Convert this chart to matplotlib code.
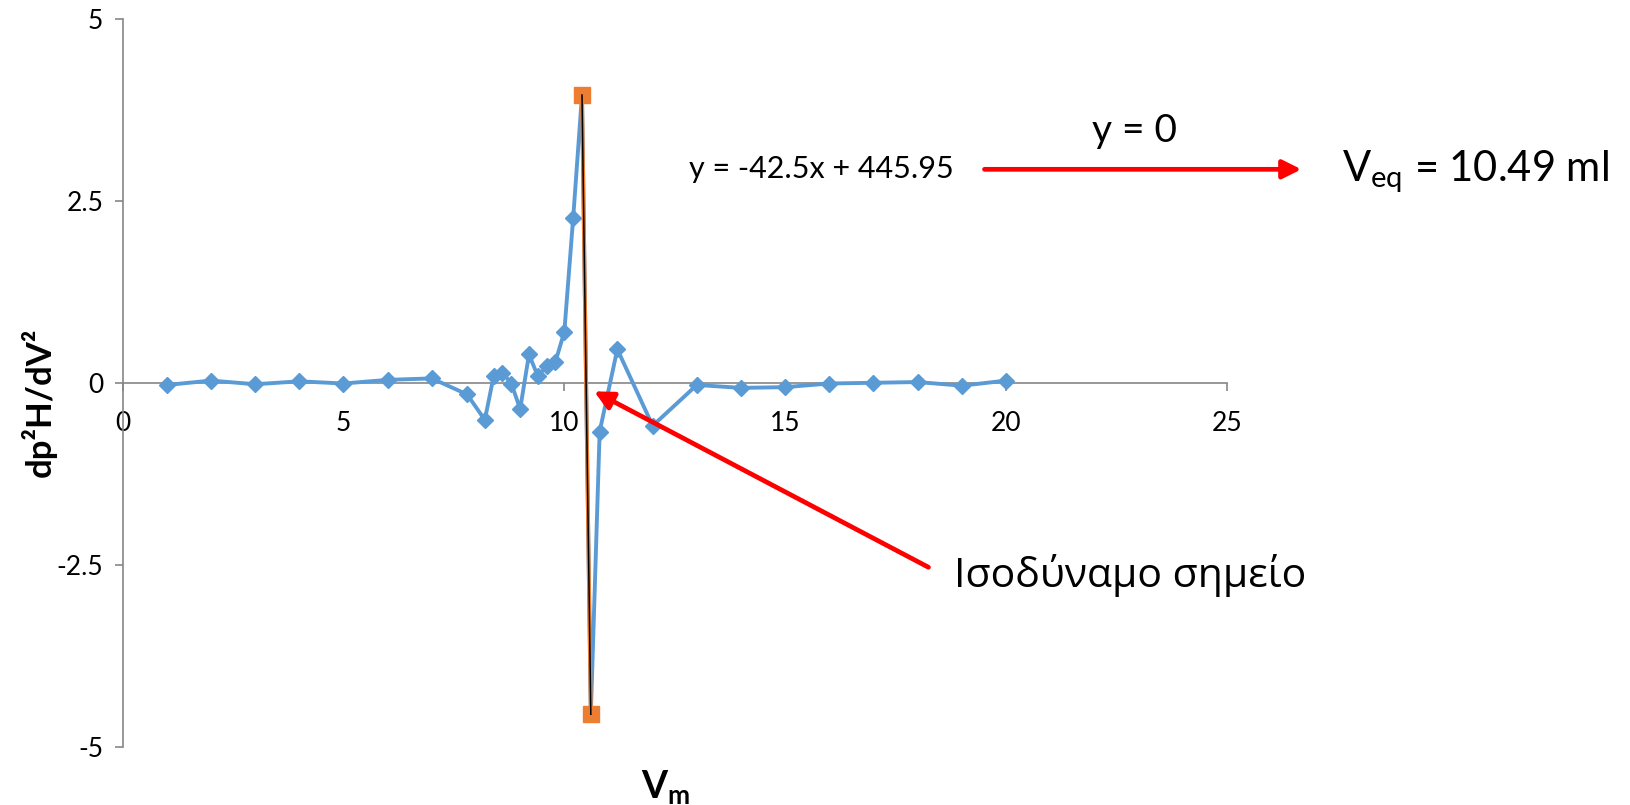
#!/usr/bin/env python3
"""
second derivative of the titration curve, equivalence point by linear fit
"""

# %% load libraries
import numpy as np
import matplotlib
matplotlib.use('Agg')
import matplotlib.pyplot as plt


# %% data

# second derivative series
v_ml = [1, 2, 3, 4, 5, 6, 7, 7.8, 8.2, 8.4, 8.6, 8.8, 9.0, 9.2, 9.4, 9.6,
        9.8, 10.0, 10.2, 10.4, 10.6, 10.8, 11.2, 12, 13, 14, 15, 16, 17, 18,
        19, 20]
d2 = [-0.03, 0.03, -0.02, 0.02, -0.01, 0.04, 0.06, -0.16, -0.51, 0.09, 0.14,
      -0.01, -0.36, 0.39, 0.09, 0.23, 0.29, 0.70, 2.26, 3.95, -4.55, -0.67,
      0.46, -0.59, -0.03, -0.07, -0.06, -0.01, 0.00, 0.01, -0.04, 0.03]

# the two points around the sign change
v_eq_pts = [10.4, 10.6]
d2_eq_pts = [3.95, -4.55]

# trendline through them
trend_slope = -42.5
trend_intercept = 445.95

# axis ticks
x_ticks = [0, 5, 10, 15, 20, 25]
y_ticks = [-5, -2.5, 0, 2.5, 5]
y_labels = ['-5', '-2.5', '0', '2.5', '5']


# %% style
plt.rcParams['font.family'] = ['Lato', 'Open Sans', 'DejaVu Sans']
plt.rcParams['mathtext.fontset'] = 'custom'
plt.rcParams['mathtext.rm'] = 'Lato'
plt.rcParams['mathtext.bf'] = 'Lato:bold'
plt.rcParams['mathtext.it'] = 'Lato'

blue = '#5B9BD5'
orange = '#ED7D31'
grey = '#868686'


# %% figure
fig = plt.figure(figsize=(16.31, 8.05), dpi=100)
ax = fig.add_axes([0.0752, 0.072, 0.677, 0.905])

# --+ series
ax.plot(v_ml, d2, color=blue, lw=2.8, marker='D', ms=8.5, zorder=3)
ax.plot(v_eq_pts, d2_eq_pts, color=orange, lw=2.8, marker='s', ms=11.5,
        zorder=4)
# --+ linear trend
xt = np.array(v_eq_pts)
ax.plot(xt, trend_slope * xt + trend_intercept, color='black', lw=1.1,
        zorder=5)

# --+ axes
ax.set_xlim(0, 25)
ax.set_ylim(-5, 5)
ax.spines['left'].set_position(('data', 0))
ax.spines['bottom'].set_position(('data', 0))
ax.spines['top'].set_visible(False)
ax.spines['right'].set_visible(False)
for s in ['left', 'bottom']:
    ax.spines[s].set_color(grey)
    ax.spines[s].set_linewidth(1.2)
ax.set_xticks(x_ticks)
ax.set_yticks(y_ticks)
ax.set_xticklabels([str(t) for t in x_ticks], fontsize=19)
ax.set_yticklabels(y_labels, fontsize=19)
ax.tick_params(axis='both', direction='out', length=6, width=1.2,
               color=grey)
ax.tick_params(axis='x', pad=14)
ax.tick_params(axis='y', pad=8)
ax.patch.set_alpha(0)

# --+ axis titles
fig.text(0.024, 0.50, 'dp²H/dV²', rotation=90, ha='center', va='center',
         fontsize=25, fontweight='bold')
fig.text(0.408, 0.022, r'$\mathbf{V_m}$', ha='center', va='center',
         fontsize=27)

# --+ annotations
ax.text(15.82, 2.93, 'y = -42.5x + 445.95', ha='center', va='center',
        fontsize=22)
ax.annotate('', xy=(26.75, 2.93), xytext=(19.45, 2.93),
            arrowprops=dict(arrowstyle='-|>', color='red', lw=3.4,
                            mutation_scale=28),
            annotation_clip=False)
ax.text(22.9, 3.45, 'y = 0', ha='center', va='center', fontsize=28)
ax.text(27.6, 2.9, r'V$_{\mathrm{eq}}$ = 10.49 ml', ha='left', va='center',
        fontsize=30)
ax.annotate('', xy=(10.62, -0.1), xytext=(18.3, -2.55),
            arrowprops=dict(arrowstyle='-|>', color='red', lw=3.4,
                            mutation_scale=28),
            annotation_clip=False)
ax.text(18.83, -2.64, 'Ισοδύναμο σημείο', ha='left', va='center',
        fontsize=29.5, family=['Open Sans', 'DejaVu Sans'])

# --+ save plot
plt.savefig('out.png', dpi=100)
